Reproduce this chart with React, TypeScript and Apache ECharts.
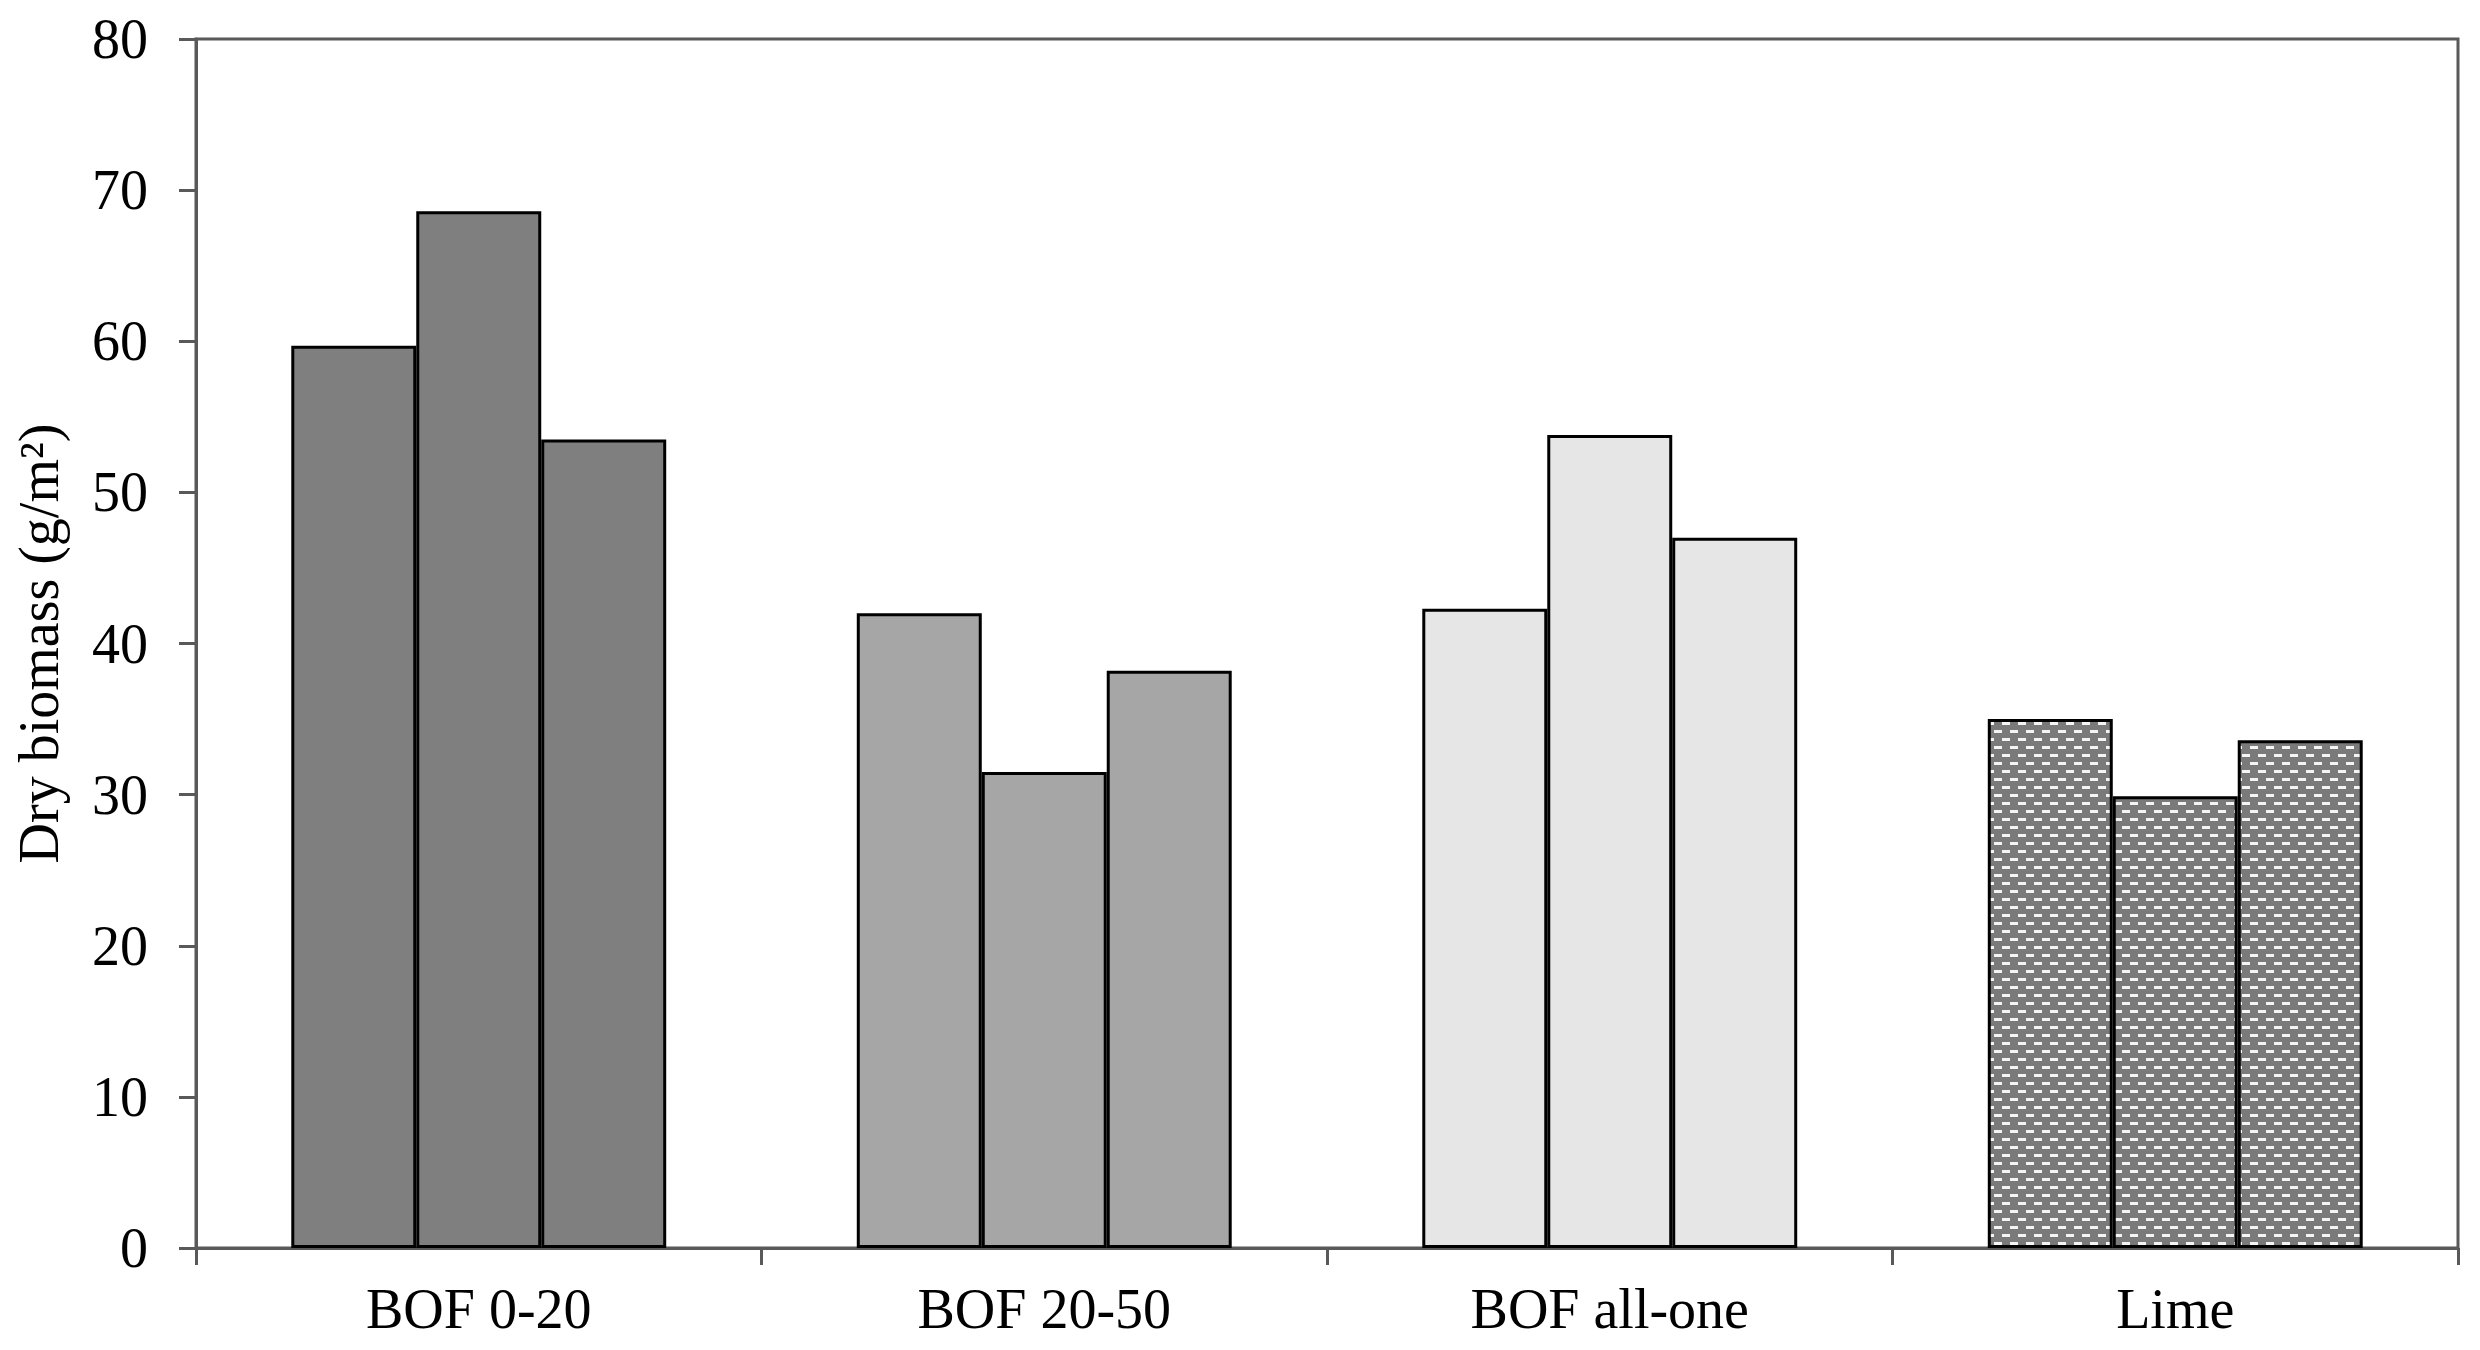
import React, { useEffect, useRef } from "react";
import * as echarts from "echarts";

const categories = ["BOF 0-20", "BOF 20-50", "BOF all-one", "Lime"];
const replicate1 = [59.7, 42.0, 42.3, 35.0];
const replicate2 = [68.6, 31.5, 53.8, 29.9];
const replicate3 = [53.5, 38.2, 47.0, 33.6];
const yTicks = { min: 0, max: 80, interval: 10 };
const yName = "Dry biomass (g/m²)";

const FONT = "'Liberation Serif', 'Times New Roman', serif";
const AXIS_GRAY = "#595959";

function makeLimePattern() {
  const c = document.createElement("canvas");
  c.width = 16;
  c.height = 16;
  const ctx = c.getContext("2d")!;
  ctx.fillStyle = "#7a7a7a";
  ctx.fillRect(0, 0, 16, 16);
  ctx.fillStyle = "#f4f4f4";
  ctx.fillRect(2, 2, 8, 3);
  ctx.fillRect(10, 10, 6, 3);
  ctx.fillRect(0, 10, 2, 3);
  return { image: c, repeat: "repeat", imageWidth: 16, imageHeight: 16 } as any;
}

export default function App() {
  const ref = useRef<HTMLDivElement>(null);
  useEffect(() => {
    if (!ref.current) return;
    const chart = echarts.init(ref.current, undefined, { renderer: "svg" });
    const fills: any[] = ["#7f7f7f", "#a6a6a6", "#e6e6e6", makeLimePattern()];
    const mk = (vals: number[]) =>
      vals.map((v, i) => ({ value: v, itemStyle: { color: fills[i] } }));
    const seriesCommon = {
      type: "bar" as const,
      barGap: "0%",
      barCategoryGap: "33.7%",
      itemStyle: { borderColor: "#000", borderWidth: 3 },
    };
    chart.setOption({
      animation: false,
      backgroundColor: "#ffffff",
      grid: {
        left: 196,
        right: 22,
        top: 39,
        bottom: 102,
        show: true,
        borderColor: AXIS_GRAY,
        borderWidth: 3,
        backgroundColor: "transparent",
      },
      xAxis: {
        type: "category",
        data: categories,
        axisLine: { show: true, lineStyle: { color: AXIS_GRAY, width: 3 } },
        axisTick: {
          show: true,
          alignWithLabel: false,
          length: 17,
          lineStyle: { color: AXIS_GRAY, width: 3 },
        },
        axisLabel: {
          color: "#000",
          fontFamily: FONT,
          fontSize: 56,
          margin: 33,
        },
      },
      yAxis: {
        type: "value",
        min: yTicks.min,
        max: yTicks.max,
        interval: yTicks.interval,
        name: yName,
        nameLocation: "middle",
        nameRotate: 90,
        nameGap: 129,
        nameTextStyle: { color: "#000", fontFamily: FONT, fontSize: 56 },
        splitLine: { show: false },
        axisLine: { show: true, lineStyle: { color: AXIS_GRAY, width: 3 } },
        axisTick: {
          show: true,
          length: 17,
          lineStyle: { color: AXIS_GRAY, width: 3 },
        },
        axisLabel: {
          color: "#000",
          fontFamily: FONT,
          fontSize: 56,
          margin: 48,
        },
      },
      series: [
        { ...seriesCommon, name: "1", data: mk(replicate1) },
        { ...seriesCommon, name: "2", data: mk(replicate2) },
        { ...seriesCommon, name: "3", data: mk(replicate3) },
      ],
    });
    return () => chart.dispose();
  }, []);
  return (
    <div
      ref={ref}
      style={{ position: "fixed", left: 0, top: 0, width: 2480, height: 1350 }}
    />
  );
}
